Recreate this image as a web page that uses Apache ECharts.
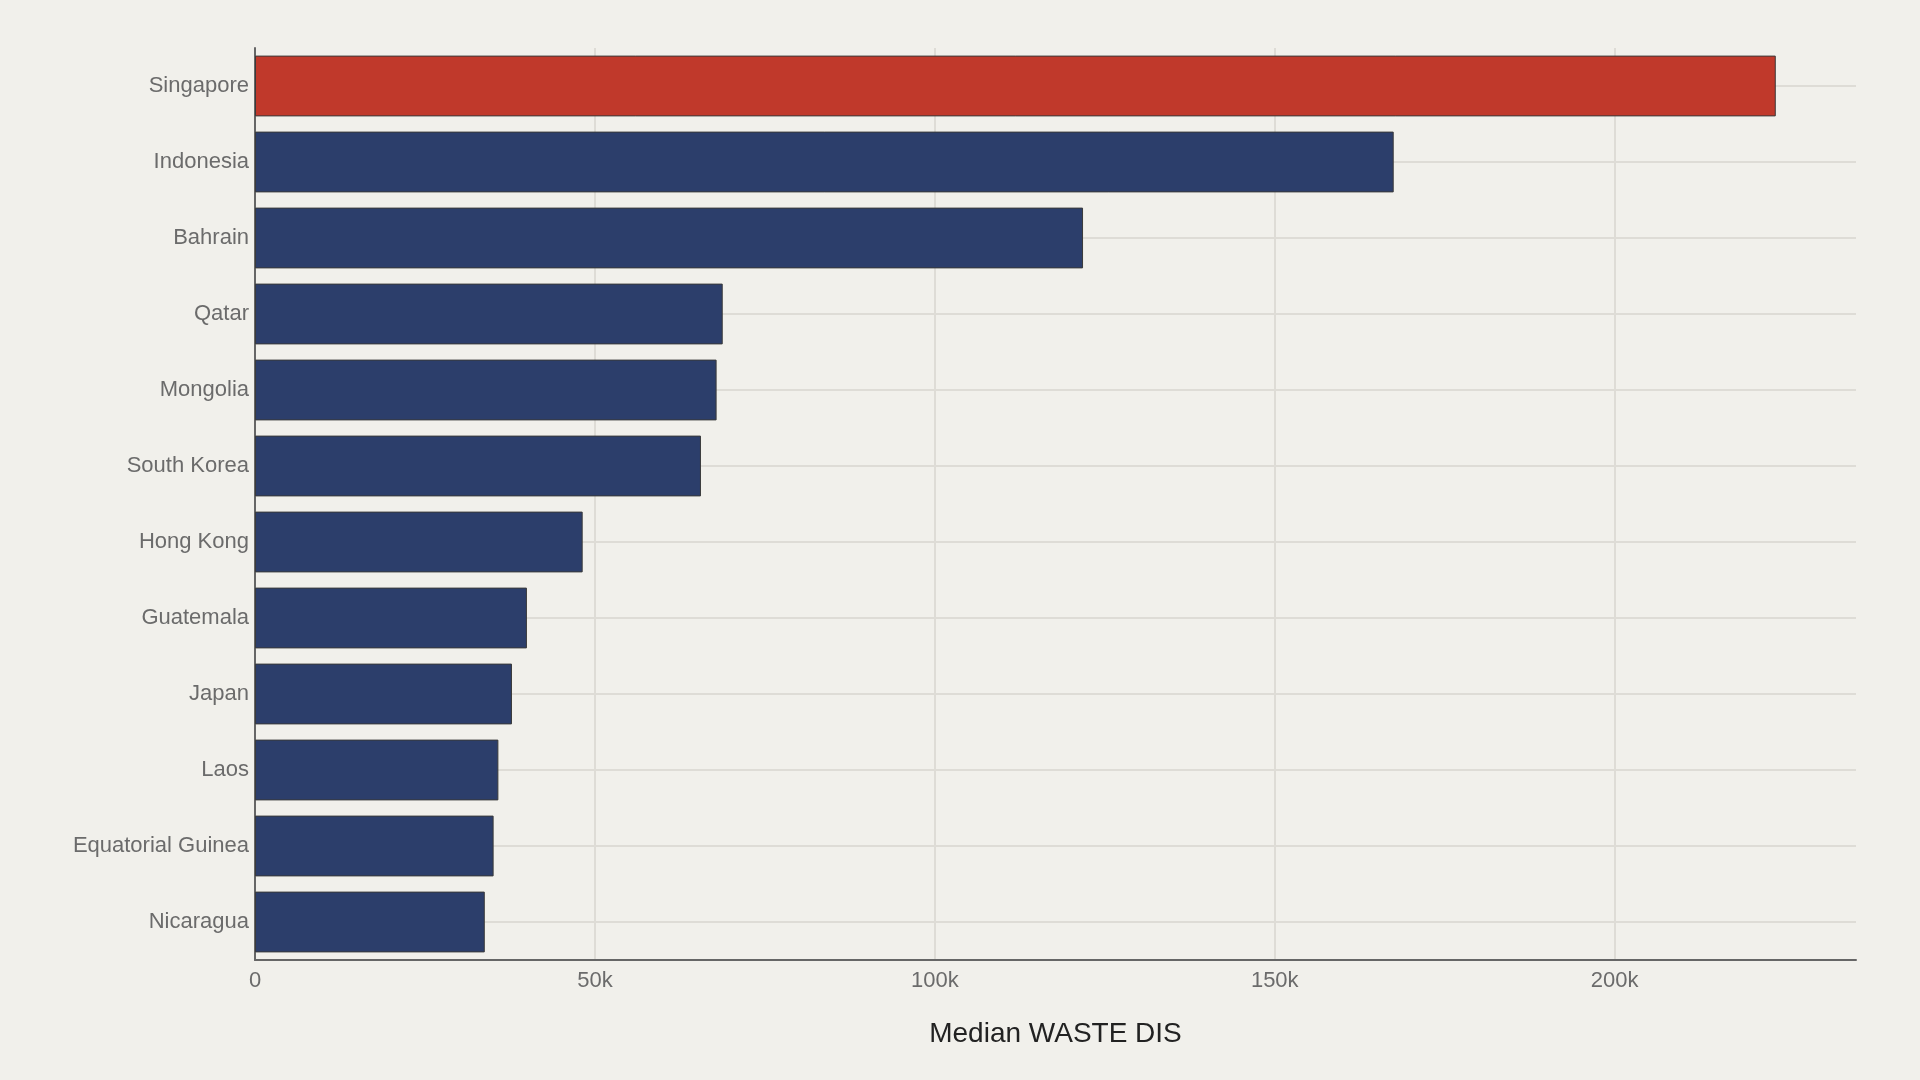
<!DOCTYPE html>
<html>
<head>
<meta charset="utf-8">
<script src="https://cdn.jsdelivr.net/npm/echarts@6/dist/echarts.min.js"></script>
<style>
  html, body { margin: 0; padding: 0; background: #f1f0eb; }
  #chart { width: 1920px; height: 1080px; }
</style>
</head>
<body>
<div id="chart"></div>
<script>
// categories top to bottom
const countries = ['Singapore', 'Indonesia', 'Bahrain', 'Qatar', 'Mongolia', 'South Korea',
  'Hong Kong', 'Guatemala', 'Japan', 'Laos', 'Equatorial Guinea', 'Nicaragua']
// median waste values
const medianWaste = [223700, 167500, 121800, 68800, 67900, 65600,
  48200, 40000, 37800, 35800, 35100, 33800]
const xTicks = [0, 50000, 100000, 150000, 200000]
const highlight = 'Singapore'

const chart = echarts.init(document.getElementById('chart'))
chart.setOption({
  backgroundColor: '#f1f0eb',
  animation: false,
  textStyle: { fontFamily: 'Liberation Sans, Arial, sans-serif' },
  grid: {
    left: 255,
    right: 64,
    top: 48,
    bottom: 120
  },
  xAxis: {
    type: 'value',
    min: 0,
    max: 235500,
    interval: 50000,
    name: 'Median WASTE DIS',
    nameLocation: 'middle',
    nameGap: 60,
    nameTextStyle: { color: '#222', fontSize: 28 },
    axisLine: { show: true, lineStyle: { color: '#666', width: 2 } },
    axisTick: { show: false },
    axisLabel: {
      color: '#6b6b6b',
      fontSize: 22,
      margin: 10,
      showMaxLabel: false,
      // 刻度文字
      formatter: v => xTicks.indexOf(v) < 0 ? '' : (v === 0 ? '0' : (v / 1000) + 'k')
    },
    splitLine: {
      show: true,
      showMaxLine: false,
      lineStyle: { color: '#dedcd6', width: 2 }
    }
  },
  yAxis: {
    type: 'category',
    inverse: true,
    data: countries,
    axisLine: { show: true, lineStyle: { color: '#666', width: 2 } },
    axisTick: { show: false },
    axisLabel: { color: '#6b6b6b', fontSize: 22, margin: 6, padding: [4, 0, 0, 0] },
    // 网格线对齐到类目中心
    splitLine: {
      show: true,
      alignWithLabel: true,
      lineStyle: { color: '#dedcd6', width: 2 }
    }
  },
  series: [
    {
      type: 'bar',
      barCategoryGap: '20%',
      data: medianWaste.map((v, i) => ({
        value: v,
        itemStyle: {
          color: countries[i] === highlight ? '#c0392b' : '#2c3e6b'
        }
      })),
      itemStyle: {
        borderColor: '#3a3a3a',
        borderWidth: 1
      }
    }
  ]
})
</script>
</body>
</html>
